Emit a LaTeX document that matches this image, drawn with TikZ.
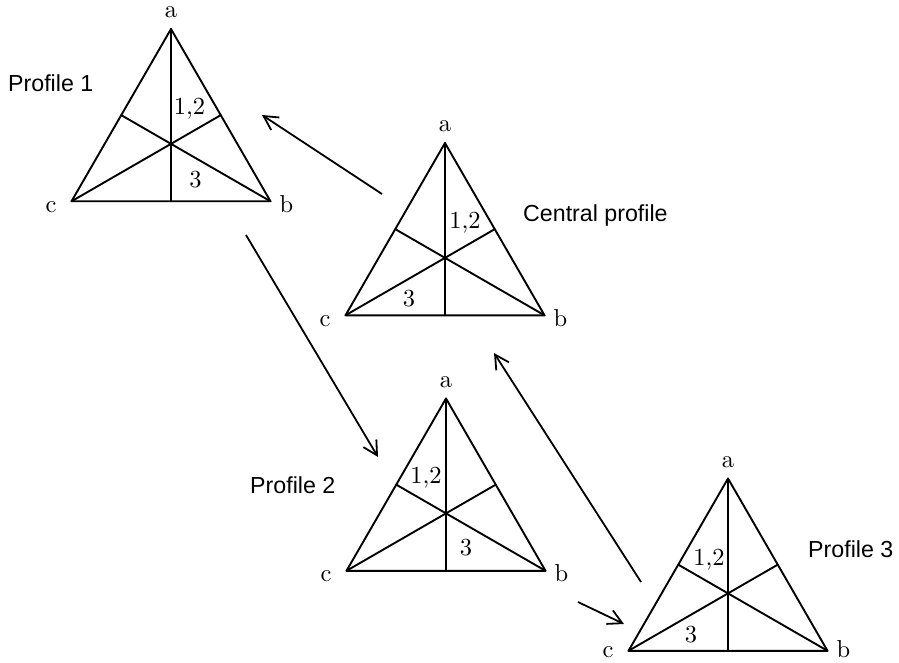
\documentclass[tikz,border=0pt]{standalone}
\usepackage{fontspec}
\newfontfamily\sansf{Liberation Sans}
\newfontfamily\serifx{lmroman10-regular}[Extension=.otf]
\usetikzlibrary{arrows.meta}
\tikzset{
  triline/.style={line width=1.9pt, line join=round, line cap=round},
  conn/.style={line width=1.8pt, -{Straight Barb[length=14pt,width=15pt,line width=1.8pt]}},
  vlab/.style={anchor=base, inner sep=0pt, font=\serifx\fontsize{24.5}{29}\selectfont},
  num/.style={anchor=base, inner sep=0pt, font=\serifx\fontsize{24.5}{29}\selectfont},
  ptitle/.style={anchor=base west, inner sep=0pt, font=\sansf\fontsize{23.2}{28}\selectfont},
}
% name, apex x, apex y, baseline offset of b/c labels below base
\newcommand{\mytri}[4]{%
  \begin{scope}[shift={(#2,#3)}]
    \coordinate (#1a) at (0,0);
    \coordinate (#1b) at (99.5,172.3);
    \coordinate (#1c) at (-99.5,172.3);
    \coordinate (#1mab) at (49.75,86.15);
    \coordinate (#1mac) at (-49.75,86.15);
    \coordinate (#1mbc) at (0,172.3);
    \draw[triline] (#1a) -- (#1b) -- (#1c) -- cycle;
    \draw[triline] (#1a) -- (#1mbc);
    \draw[triline] (#1b) -- (#1mac);
    \draw[triline] (#1c) -- (#1mab);
    \node[vlab] (#1la) at (0,-11) {a};
    \node[vlab] (#1lb) at (115.5,172.3+#4) {b};
    \node[vlab] (#1lc) at (-120,172.3+#4) {c};
  \end{scope}}
\begin{document}
\begin{tikzpicture}[x=1pt,y=-1pt]
\useasboundingbox (0,0) rectangle (899,663);
% triangles
\mytri{p}{171}{29}{11}
\mytri{q}{445}{143}{11}
\mytri{r}{446}{398.5}{11}
\mytri{s}{728}{478.5}{6.5}
% region numbers
\node[num] (p12) at (189.5,115) {1,2};
\node[num] (p3) at (195.5,188) {3};
\node[num] (q12) at (465,228) {1,2};
\node[num] (q3) at (409,306) {3};
\node[num] (r12) at (426,483) {1,2};
\node[num] (r3) at (466,555) {3};
\node[num] (s12) at (709,565) {1,2};
\node[num] (s3) at (691,642) {3};
% titles
\node[ptitle] (t1) at (8,92) {Profile 1};
\node[ptitle] (tc) at (523,222) {Central profile};
\node[ptitle] (t2) at (250,493) {Profile 2};
\node[ptitle] (t3) at (808,557) {Profile 3};
% arrows
\coordinate (a1s) at (382,194); \coordinate (a1e) at (262,115);
\coordinate (a2s) at (246,235); \coordinate (a2e) at (378,457);
\coordinate (a3s) at (641,582); \coordinate (a3e) at (494,353);
\coordinate (a4s) at (578,602); \coordinate (a4e) at (624,624);
\draw[conn] (a1s) -- (a1e);
\draw[conn] (a2s) -- (a2e);
\draw[conn] (a3s) -- (a3e);
\draw[conn] (a4s) -- (a4e);
\end{tikzpicture}
\end{document}
